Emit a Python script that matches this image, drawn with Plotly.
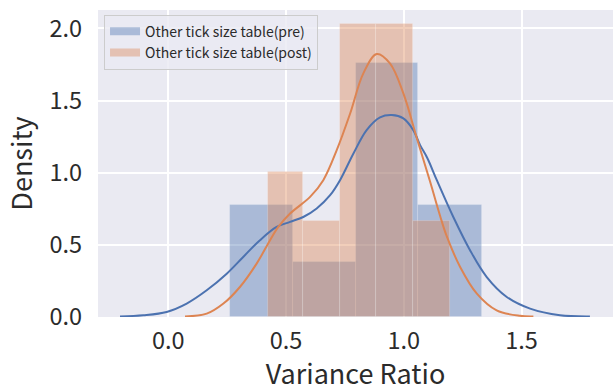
import numpy as np
import plotly.graph_objects as go

# Histogram bins (edges) and normalised densities
pre_edges = [0.262, 0.528, 0.796, 1.062, 1.331]
pre_density = [0.775, 0.381, 1.761, 0.775]
post_edges = [0.422, 0.571, 0.727, 0.883, 1.040, 1.196]
post_density = [1.006, 0.666, 2.028, 2.028, 0.666]

# Kernel density estimate curves
pre_kde_x = [-0.205, -0.106, -0.007, 0.078, 0.163, 0.248, 0.318, 0.389, 0.46, 0.517,
             0.573, 0.63, 0.687, 0.729, 0.786, 0.842, 0.899, 0.949, 0.998, 1.04,
             1.069, 1.10, 1.14, 1.21, 1.281, 1.352, 1.437, 1.536, 1.663, 1.79]
pre_kde_y = [0.004, 0.012, 0.035, 0.093, 0.185, 0.30, 0.416, 0.532, 0.624, 0.659,
             0.693, 0.752, 0.844, 0.948, 1.133, 1.295, 1.383, 1.399, 1.376, 1.295,
             1.191, 1.10, 0.948, 0.693, 0.463, 0.277, 0.139, 0.058, 0.012, 0.004]
post_kde_x = [0.071, 0.163, 0.234, 0.304, 0.375, 0.432, 0.467, 0.517, 0.602, 0.658,
              0.715, 0.772, 0.828, 0.885, 0.941, 0.998, 1.055, 1.111, 1.154, 1.182,
              1.239, 1.31, 1.394, 1.493, 1.55]
post_kde_y = [0.004, 0.023, 0.093, 0.208, 0.37, 0.532, 0.624, 0.717, 0.832, 0.948,
              1.156, 1.41, 1.688, 1.822, 1.757, 1.549, 1.24, 0.94, 0.70, 0.56,
              0.347, 0.162, 0.046, 0.008, 0.004]

labels = ["Other tick size table(pre)", "Other tick size table(post)"]
xticks = [0.0, 0.5, 1.0, 1.5]
yticks = [0.0, 0.5, 1.0, 1.5, 2.0]

BLUE = "#4C72B0"
ORANGE = "#DD8452"
BLUE_A = "rgba(76,114,176,0.4)"
ORANGE_A = "rgba(221,132,82,0.4)"
FONT = "Noto Sans CJK JP"
TEXT = "#2b2b2b"


def bar_geometry(edges):
    e = np.asarray(edges)
    return (e[:-1] + e[1:]) / 2, np.diff(e)


fig = go.Figure()

for edges, dens, fill, line_col, kx, ky in [
    (pre_edges, pre_density, BLUE_A, BLUE, pre_kde_x, pre_kde_y),
    (post_edges, post_density, ORANGE_A, ORANGE, post_kde_x, post_kde_y),
]:
    centers, widths = bar_geometry(edges)
    fig.add_trace(go.Bar(
        x=centers, y=dens, width=widths,
        marker=dict(color=fill, line=dict(color="rgba(255,255,255,0.25)", width=0.8)),
        showlegend=False, hoverinfo="skip",
    ))
    fig.add_trace(go.Scatter(
        x=kx, y=ky, mode="lines",
        line=dict(color=line_col, width=2, shape="spline", smoothing=1.0),
        showlegend=False, hoverinfo="skip",
    ))

# Legend entries drawn as wide patches
for name, fill in zip(labels, [BLUE_A, ORANGE_A]):
    fig.add_trace(go.Scatter(
        x=[None], y=[None], mode="lines", name=name,
        line=dict(color=fill, width=8),
    ))

fig.update_layout(
    width=613, height=392,
    margin=dict(l=98, r=0, t=10, b=75),
    paper_bgcolor="white",
    plot_bgcolor="#EAEAF2",
    barmode="overlay",
    bargap=0,
    font=dict(family=FONT, color=TEXT),
    legend=dict(
        x=0.0117, y=0.985, xanchor="left", yanchor="top",
        bgcolor="rgba(234,234,242,0.8)",
        bordercolor="#CCCCCC", borderwidth=1,
        font=dict(size=14, family=FONT, color=TEXT),
        tracegroupgap=0,
    ),
)

fig.update_xaxes(
    range=[-0.2985, 1.888],
    tickvals=xticks, ticktext=[f"{v:.1f}" for v in xticks],
    showgrid=True, gridcolor="white", gridwidth=1.6,
    zeroline=False, showline=False,
    ticks="", ticklabelstandoff=7,
    tickfont=dict(size=23.5, family=FONT, color=TEXT),
    title=dict(text="Variance Ratio", font=dict(size=27, family=FONT, color=TEXT), standoff=10),
)
fig.update_yaxes(
    range=[0, 2.127],
    tickvals=yticks, ticktext=[f"{v:.1f}" for v in yticks],
    showgrid=True, gridcolor="white", gridwidth=1.6,
    zeroline=False, showline=False,
    ticks="", ticklabelstandoff=15,
    tickfont=dict(size=23.5, family=FONT, color=TEXT),
    title=dict(text="Density", font=dict(size=27, family=FONT, color=TEXT), standoff=8),
)

fig.write_html("out.html")
